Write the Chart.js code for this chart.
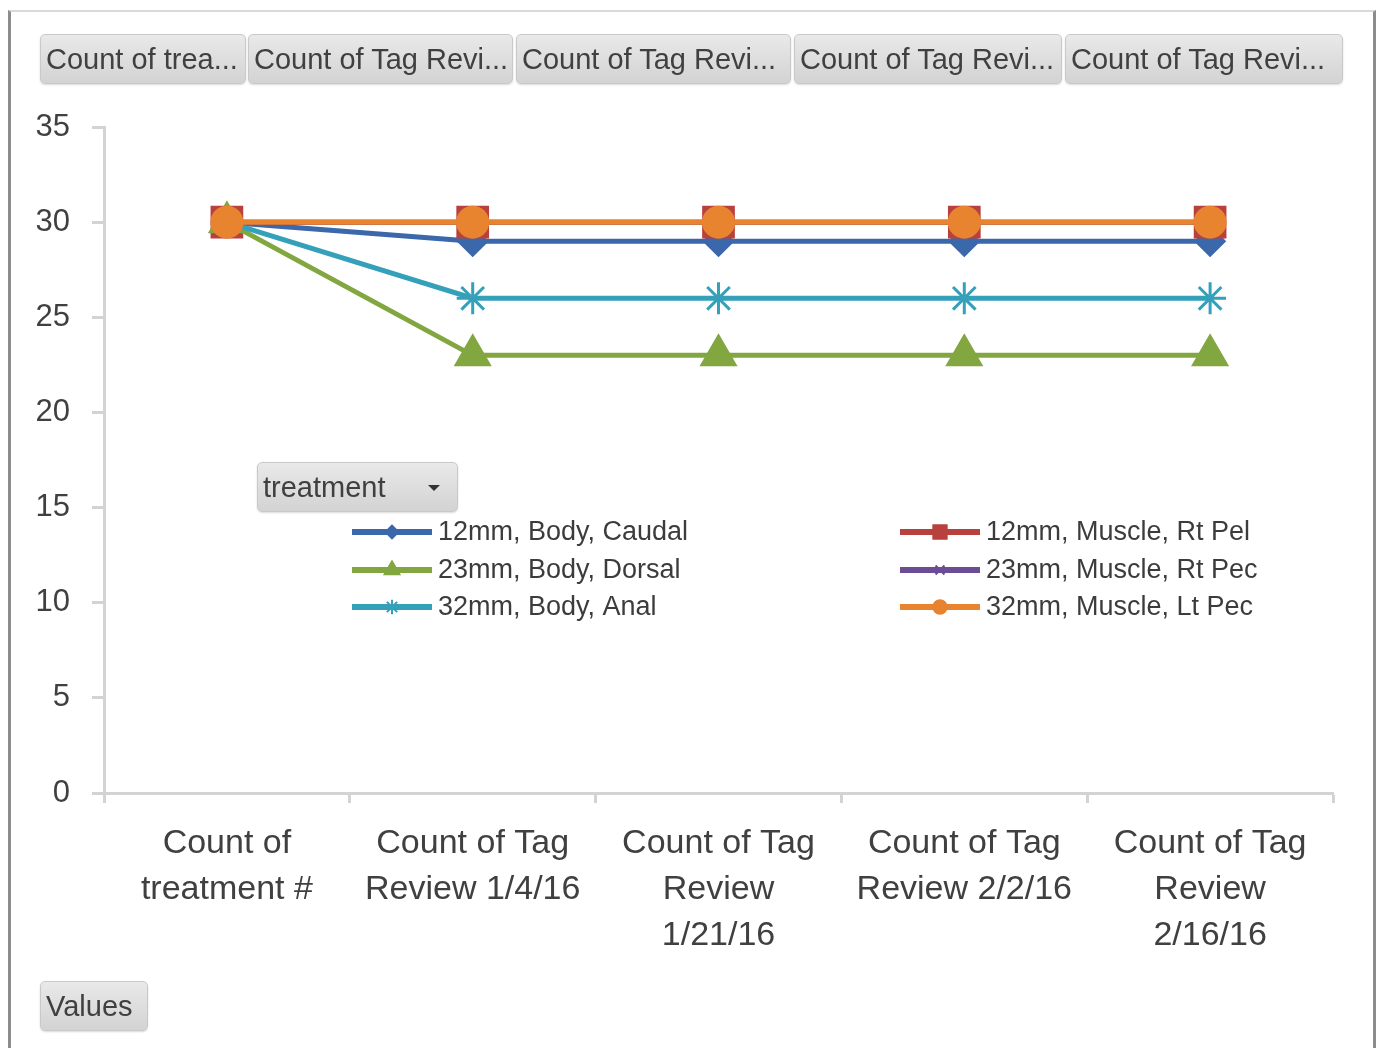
<!DOCTYPE html>
<html>
<head>
<meta charset="utf-8">
<script src="https://cdn.jsdelivr.net/npm/chart.js@4"></script>
<style>
  body { margin: 0; background: #fff; width: 1380px; height: 1048px; overflow: hidden; position: relative;
         font-family: "Liberation Sans", Arial, sans-serif; }
  #frame { position: absolute; left: 8px; top: 10px; width: 1362px; height: 1100px;
           border-left: 3px solid #8c8c8c; border-right: 3px solid #8c8c8c; border-top: 2px solid #dadada; }
  #chart1 { position: absolute; left: 0; top: 0; }
  .btn { position: absolute; height: 50px; box-sizing: border-box; border: 1px solid #c9c9c9; border-radius: 5px;
         background: linear-gradient(#e9e9e9, #d3d3d3); color: #404040; font-size: 29px; line-height: 48px;
         padding-left: 5px; white-space: nowrap; overflow: hidden; box-shadow: 0 1px 2px rgba(0,0,0,0.15); }
  .arrow { position: absolute; right: 17px; top: 22px; width: 0; height: 0;
           border-left: 6px solid transparent; border-right: 6px solid transparent; border-top: 6px solid #333; }
</style>
</head>
<body>
<div id="frame"></div>
<canvas id="chart1" width="1380" height="1048"></canvas>
<div id="buttons"></div>

<script>
// ----------------------------
// data
// ----------------------------
const categories = [
  ["Count of", "treatment #"],
  ["Count of Tag", "Review 1/4/16"],
  ["Count of Tag", "Review", "1/21/16"],
  ["Count of Tag", "Review 2/2/16"],
  ["Count of Tag", "Review", "2/16/16"]
];
const seriesNames = [
  "12mm, Body, Caudal", "12mm, Muscle, Rt Pel",
  "23mm, Body, Dorsal", "23mm, Muscle, Rt Pec",
  "32mm, Body, Anal", "32mm, Muscle, Lt Pec"
];
const bodyCaudal12  = [30, 29, 29, 29, 29];
const muscleRtPel12 = [30, 30, 30, 30, 30];
const bodyDorsal23  = [30, 23, 23, 23, 23];
const muscleRtPec23 = [30, 30, 30, 30, 30];
const bodyAnal32    = [30, 26, 26, 26, 26];
const muscleLtPec32 = [30, 30, 30, 30, 30];

const fieldButtons = ["Count of trea...", "Count of Tag Revi...", "Count of Tag Revi...",
                      "Count of Tag Revi...", "Count of Tag Revi..."];
const yTicks = [0, 5, 10, 15, 20, 25, 30, 35];

// ----------------------------
// pivot field buttons (html)
// ----------------------------
const btnBox = document.getElementById("buttons");
const btnX = [40, 248, 516, 794, 1065];
const btnW = [206, 265, 275, 268, 278];
fieldButtons.forEach((t, i) => {
  const b = document.createElement("div");
  b.className = "btn";
  b.style.left = btnX[i] + "px"; b.style.top = "34px"; b.style.width = btnW[i] + "px";
  b.textContent = t;
  btnBox.appendChild(b);
});
function addBtn(text, x, y, w, arrow) {
  const b = document.createElement("div");
  b.className = "btn";
  b.style.left = x + "px"; b.style.top = y + "px"; b.style.width = w + "px";
  b.textContent = text;
  if (arrow) { const a = document.createElement("span"); a.className = "arrow"; b.appendChild(a); }
  btnBox.appendChild(b);
}
addBtn("treatment", 257, 462, 201, true);
addBtn("Values", 40, 981, 108, false);

// ----------------------------
// helpers
// ----------------------------
// order: chart.js draws low order on top, excel draws the last series on top
function ds(label, data, color, style, radius, order) {
  return {
    label, data, order,
    borderColor: color, backgroundColor: color,
    pointBackgroundColor: color, pointBorderColor: color,
    pointStyle: style, pointRadius: radius, pointBorderWidth: 3,
    borderWidth: 5, tension: 0, fill: false
  };
}

// legend drawn inside plot like excel (two columns, column-first)
const legendPlugin = {
  id: "xlLegend",
  afterDraw(chart) {
    const ctx = chart.ctx;
    const colX = [352, 900];
    const rowY = [532, 570, 607];
    chart.data.datasets.forEach((d, i) => {
      const x = colX[i % 2], y = rowY[Math.floor(i / 2)];
      ctx.save();
      ctx.strokeStyle = d.borderColor; ctx.lineWidth = 6;
      ctx.beginPath(); ctx.moveTo(x, y); ctx.lineTo(x + 80, y); ctx.stroke();
      ctx.fillStyle = d.borderColor; ctx.lineWidth = 2;
      Chart.helpers.drawPoint(ctx, { pointStyle: d.pointStyle, radius: d.pointRadius * 0.45, rotation: 0, borderWidth: 2 }, x + 40, y);
      ctx.fillStyle = "#3c3c3c";
      ctx.font = "27px 'Liberation Sans', Arial, sans-serif";
      ctx.textBaseline = "middle";
      ctx.fillText(d.label, x + 86, y + 1);
      ctx.restore();
    });
  }
};

const tickFont = { family: "'Liberation Sans', Arial, sans-serif", size: 31 };
const axisColor = "#d3d3d3";

const ctx = document.getElementById("chart1").getContext("2d");
new Chart(ctx, {
  type: "line",
  data: {
    labels: categories,
    datasets: [
      ds(seriesNames[0], bodyCaudal12,  "#3b67ab", "rectRot", 14, 5),
      ds(seriesNames[1], muscleRtPel12, "#b9413d", "rect", 21, 4),
      ds(seriesNames[2], bodyDorsal23,  "#82a640", "triangle", 19, 3),
      ds(seriesNames[3], muscleRtPec23, "#6b4c95", "crossRot", 14, 2),
      ds(seriesNames[4], bodyAnal32,    "#35a0ba", "star", 16, 1),
      ds(seriesNames[5], muscleLtPec32, "#e8832f", "circle", 15, 0)
    ]
  },
  options: {
    responsive: false,
    animation: false,
    events: [],
    layout: { padding: { top: 127, right: 47, left: 0, bottom: 0 } },
    plugins: { legend: { display: false }, tooltip: { enabled: false } },
    scales: {
      x: {
        offset: true,
        grid: { offset: true, drawOnChartArea: false, tickLength: 10, tickWidth: 3, tickColor: axisColor },
        border: { color: axisColor, width: 3 },
        ticks: { font: { family: tickFont.family, size: 34, lineHeight: 1.35 }, color: "#404040",
                 padding: 18, maxRotation: 0, autoSkip: false },
        afterFit: s => { s.height = 255; }
      },
      y: {
        min: 0, max: 35,
        afterBuildTicks: s => { s.ticks = yTicks.map(v => ({ value: v })); },
        grid: { drawOnChartArea: false, tickLength: 12, tickWidth: 3, tickColor: axisColor },
        border: { color: axisColor, width: 3 },
        ticks: { font: tickFont, color: "#404040", padding: 22 },
        afterFit: s => { s.width = 104; }
      }
    }
  },
  plugins: [legendPlugin]
});
</script>
</body>
</html>
